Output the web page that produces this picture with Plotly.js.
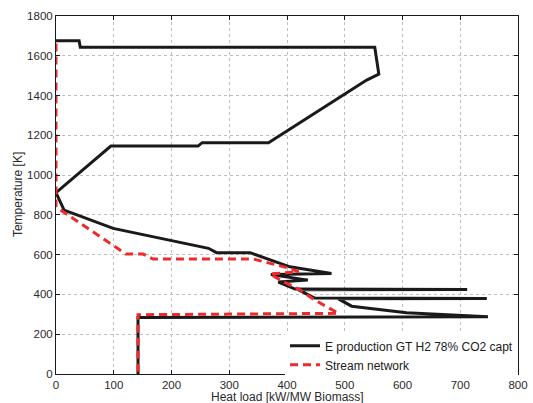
<!DOCTYPE html>
<html>
<head>
<meta charset="utf-8">
<script src="https://cdn.plot.ly/plotly-3.0.1.min.js"></script>
<style>html,body{margin:0;padding:0;background:#fff;}#chart{width:533px;height:403px;}</style>
</head>
<body>
<div id="chart"></div>
<script>
// Black curve: E production GT H2 78% CO2 capt
const gccHeat = [0, 40, 42, 552, 559, 538, 368, 253, 246, 95, 0, 14, 99, 264, 278, 336, 405, 477, 372, 436, 385, 414, 712, 420, 448, 746, 489, 512, 607, 748, 142, 142];
const gccTemp = [1676, 1676, 1643, 1643, 1508, 1478, 1163, 1163, 1146, 1146, 912, 824, 732, 632, 610, 610, 539, 505, 500, 472, 462, 427, 425, 423, 382, 380, 378, 341, 308, 288, 284, 0];
// Red dashed curve: Stream network
const netHeat = [0, 0, 121, 151, 168, 342, 405, 420, 371, 388, 423, 448, 489, 142, 142];
const netTemp = [1662, 840, 603, 603, 578, 578, 531, 514, 503, 473, 422, 372, 305, 298, 0];
const seriesNames = ["E production GT H2 78% CO2 capt", "Stream network"];
const xTicks = [0, 100, 200, 300, 400, 500, 600, 700, 800];
const yTicks = [0, 200, 400, 600, 800, 1000, 1200, 1400, 1600, 1800];
const xTitle = "Heat load [kW/MW Biomass]";
const yTitle = "Temperature [K]";

const font = "Liberation Sans, Arial, Helvetica, sans-serif";
const axisCommon = {
  showline: true, linecolor: "#1a1a1a", linewidth: 1, mirror: "ticks",
  ticks: "inside", ticklen: 4, tickcolor: "#1a1a1a",
  showgrid: true, gridcolor: "#bdbdbd", griddash: "dot", gridwidth: 1,
  zeroline: false, tickfont: {family: font, size: 11.5, color: "#2a2a2a"}
};
const data = [
  {x: gccHeat, y: gccTemp, mode: "lines", name: seriesNames[0],
   line: {color: "#1a1a1a", width: 3}},
  {x: netHeat, y: netTemp, mode: "lines", name: seriesNames[1],
   line: {color: "#ee2a2a", width: 3, dash: "8px,5px"}}
];
const layout = {
  width: 533, height: 403,
  margin: {l: 56, r: 15, t: 16, b: 29},
  paper_bgcolor: "#fff", plot_bgcolor: "#fff",
  showlegend: true,
  legend: {x: 1, y: -0.015, xanchor: "right", yanchor: "bottom", bgcolor: "#fff",
    borderwidth: 0, font: {family: font, size: 12, color: "#1a1a1a"},
    itemwidth: 30, tracegroupgap: 0},
  xaxis: Object.assign({}, axisCommon, {
    range: [0, 800], tickvals: xTicks, ticktext: xTicks.map(String)
  }),
  yaxis: Object.assign({}, axisCommon, {
    range: [0, 1800], tickvals: yTicks, ticktext: yTicks.map(String)
  }),
  annotations: [
    {text: xTitle, xref: "paper", yref: "paper", x: 0.5, y: -0.064,
     xanchor: "center", yanchor: "middle", showarrow: false,
     font: {family: font, size: 12, color: "#2a2a2a"}},
    {text: yTitle, xref: "paper", yref: "paper", x: -0.082, y: 0.5,
     xanchor: "center", yanchor: "middle", showarrow: false, textangle: -90,
     font: {family: font, size: 12, color: "#2a2a2a"}}
  ]
};
Plotly.newPlot("chart", data, layout, {displayModeBar: false, staticPlot: true});
</script>
</body>
</html>
